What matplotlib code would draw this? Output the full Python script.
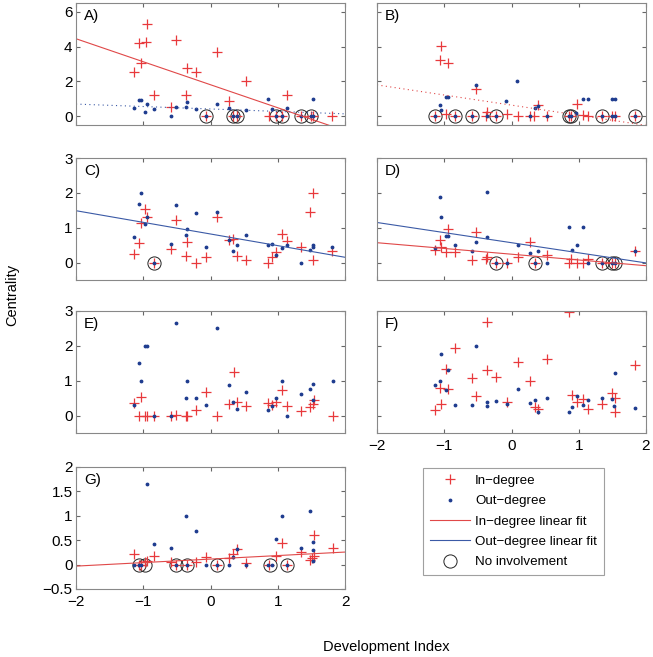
import numpy as np
import matplotlib.pyplot as plt
from matplotlib.ticker import FuncFormatter

plt.rcParams['font.family'] = ['Liberation Sans', 'DejaVu Sans']
plt.rcParams['font.size'] = 10

# ---- data ----
# panel A
xa_in = [-1.14, -1.07, -1.04, -0.96, -0.94, -0.84, -0.58, -0.52, -0.37, -0.35, -0.22, -0.07, 0.09,
         0.28, 0.34, 0.40, 0.53, 0.87, 0.98, 1.06, 1.14, 1.35, 1.50, 1.53, 1.81]
ya_in = [2.52, 4.19, 3.06, 4.27, 5.29, 1.21, 0.52, 4.40, 1.23, 2.79, 2.54, 0, 3.69,
         0.90, 0, 0, 2.04, 0, 0, 0, 1.25, 0, 0, 0, 0]
xa_out = [-1.14, -1.07, -1.04, -0.97, -0.94, -0.84, -0.58, -0.52, -0.37, -0.35, -0.22, -0.07, 0.09,
          0.28, 0.34, 0.40, 0.53, 0.86, 0.91, 0.98, 1.06, 1.14, 1.35, 1.50, 1.53, 1.53]
ya_out = [0.50, 0.96, 0.96, 0.23, 0.69, 0.40, 0, 0.56, 0.54, 0.83, 0.42, 0, 0.69,
          0.46, 0, 0, 0.38, 1.0, 0.40, 0, 0, 0.50, 0, 0, 0, 1.0]
xa_none = [-0.07, 0.34, 0.40, 0.98, 1.06, 1.35, 1.50]

# panel B
xb_in = [-1.14, -1.07, -1.05, -0.98, -0.94, -0.84, -0.58, -0.53, -0.38, -0.37, -0.23, -0.07, 0.09,
         0.27, 0.34, 0.40, 0.53, 0.86, 0.89, 0.97, 1.06, 1.14, 1.35, 1.49, 1.54, 1.83]
yb_in = [0, 3.23, 4.04, 0.12, 3.08, 0, 0, 1.58, 0, 0.27, 0, 0.12, 0,
         0, 0, 0.63, 0, 0, 0, 0.69, 0.08, 0, 0, 0, 0, 0]
xb_out = [-1.14, -1.07, -1.05, -0.97, -0.94, -0.84, -0.58, -0.53, -0.37, -0.23, -0.08, 0.08,
          0.27, 0.35, 0.40, 0.53, 0.86, 0.89, 0.96, 1.06, 1.14, 1.35, 1.49, 1.54, 1.49, 1.54, 1.83]
yb_out = [0, 0.65, 0.38, 1.13, 1.08, 0, 0, 1.81, 0, 0, 0.88, 2.02,
          0, 0.50, 0.58, 0, 0, 0, 0.21, 1.0, 1.0, 0, 1.0, 1.0, 0, 0, 0]
xb_none = [-1.14, -0.84, -0.58, -0.23, 0.86, 0.89, 1.35, 1.83]

# panel C
xc_in = [-1.14, -1.07, -1.04, -0.97, -0.94, -0.84, -0.58, -0.52, -0.35, -0.37, -0.22, -0.07, 0.09,
         0.28, 0.34, 0.40, 0.53, 0.86, 0.91, 0.98, 1.06, 1.14, 1.35, 1.48, 1.53, 1.52, 1.81]
yc_in = [0.26, 0.57, 1.14, 1.53, 1.31, 0, 0.39, 1.23, 0.58, 0.20, 0, 0.15, 1.31,
         0.64, 0.67, 0.19, 0.08, 0, 0.17, 0.31, 0.83, 0.63, 0.44, 1.46, 2.0, 0.08, 0.33]
xc_out = [-1.14, -1.07, -1.04, -0.97, -0.94, -0.84, -0.58, -0.52, -0.37, -0.35, -0.22, -0.07, 0.09,
          0.28, 0.34, 0.40, 0.53, 0.86, 0.91, 0.98, 1.06, 1.14, 1.35, 1.48, 1.52, 1.53, 1.81]
yc_out = [0.73, 1.68, 2.0, 1.12, 1.32, 0, 0.54, 1.64, 0.79, 0.97, 1.41, 0.44, 1.45,
          0.65, 0.34, 0.51, 0.80, 0.51, 0.53, 0.21, 0.42, 0.49, 0, 0.37, 0.51, 0.44, 0.46]
xc_none = [-0.84]

# panel D
xd_in = [-1.14, -1.07, -1.05, -0.97, -0.94, -0.84, -0.58, -0.53, -0.38, -0.37, -0.23, -0.07, 0.09,
         0.27, 0.35, 0.53, 0.86, 0.89, 0.97, 1.06, 1.14, 1.35, 1.49, 1.54, 1.83]
yd_in = [0.37, 0.66, 0.46, 0.30, 0.95, 0.30, 0.06, 0.89, 0.10, 0.17, 0, 0, 0.15,
         0.59, 0, 0.23, 0, 0.10, 0, 0, 0.10, 0, 0, 0, 0.33]
xd_out = [-1.14, -1.07, -1.05, -0.97, -0.94, -0.84, -0.58, -0.53, -0.37, -0.36, -0.23, -0.07, 0.09,
          0.28, 0.35, 0.40, 0.53, 0.86, 0.90, 0.97, 1.06, 1.14, 1.35, 1.49, 1.54, 1.83]
yd_out = [0.41, 1.88, 1.32, 0.75, 0.75, 0.50, 0.33, 0.58, 0.72, 2.02, 0, 0, 0.51,
          0.28, 0, 0.33, 0, 1.01, 0.37, 0.50, 1.01, 0, 0, 0, 0, 0.33]
xd_none = [-0.23, 0.35, 1.35, 1.49, 1.54]

# panel E
xe_in = [-1.14, -1.07, -1.04, -0.97, -0.94, -0.84, -0.58, -0.52, -0.37, -0.35, -0.22, -0.07, 0.09,
         0.28, 0.35, 0.40, 0.53, 0.86, 0.91, 0.98, 1.07, 1.14, 1.35, 1.48, 1.52, 1.54, 1.82]
ye_in = [0.36, 0, 0.53, 0, 0, 0, 0, 0.02, 0, 0, 0.17, 0.69, 0,
         0.33, 1.25, 0.39, 0.27, 0.36, 0.31, 0.39, 0.74, 0.27, 0.12, 0.25, 0.34, 0.44, 0]
xe_out = [-1.14, -1.07, -1.04, -0.97, -0.94, -0.84, -0.58, -0.52, -0.37, -0.35, -0.22, -0.07, 0.09,
          0.28, 0.34, 0.40, 0.53, 0.86, 0.91, 0.98, 1.07, 1.14, 1.35, 1.48, 1.52, 1.53, 1.82]
ye_out = [0.31, 1.5, 1.0, 2.0, 2.0, 0, 0, 2.67, 0.5, 1.0, 0.5, 0.3, 2.5,
          0.88, 0.38, 0.18, 0.67, 0.17, 0.27, 0.49, 1.0, 0, 0.62, 0.77, 0.46, 0.9, 1.0]

# panel F
xf_in = [-1.14, -1.07, -1.05, -0.97, -0.94, -0.84, -0.58, -0.53, -0.37, -0.36, -0.23, -0.07, 0.09,
         0.28, 0.35, 0.40, 0.53, 0.86, 0.90, 0.97, 1.06, 1.14, 1.35, 1.49, 1.54, 1.54, 1.83]
yf_in = [0.15, 0.78, 0.32, 1.34, 0.75, 1.94, 1.09, 0.56, 2.69, 1.30, 1.11, 0.39, 1.53,
         0.98, 0.25, 0.18, 1.61, 2.96, 0.58, 0.39, 0.47, 0.20, 0.33, 0.64, 0.50, 0.09, 1.46]
xf_out = [-1.14, -1.07, -1.05, -0.97, -0.94, -0.84, -0.58, -0.53, -0.37, -0.36, -0.23, -0.07, 0.09,
          0.28, 0.35, 0.40, 0.53, 0.86, 0.90, 0.97, 1.06, 1.14, 1.35, 1.49, 1.54, 1.52, 1.83]
yf_out = [0.89, 1.0, 1.76, 0.74, 1.30, 0.29, 0.29, 2.0, 0.28, 0.40, 0.41, 0.33, 0.77,
          0.36, 0.44, 0.11, 0.50, 0.11, 0.25, 0.56, 0.30, 0.44, 0.50, 0.48, 1.21, 0.27, 0.21]

# panel G
xg_in = [-1.14, -1.07, -1.04, -0.97, -0.94, -0.84, -0.58, -0.52, -0.35, -0.22, -0.07, 0.09,
         0.28, 0.34, 0.40, 0.53, 0.87, 0.98, 1.07, 1.14, 1.35, 1.48, 1.51, 1.54, 1.54, 1.82]
yg_in = [0.21, 0, 0, 0.06, 0.07, 0.18, 0.06, 0, 0, 0.06, 0.15, 0,
         0.13, 0.21, 0.32, 0.03, 0, 0.18, 0.44, 0, 0.26, 0.09, 0.14, 0.61, 0.18, 0.33]
xg_out = [-1.14, -1.07, -1.04, -0.94, -0.84, -0.58, -0.52, -0.37, -0.35, -0.22, -0.07, 0.09,
          0.28, 0.34, 0.40, 0.53, 0.86, 0.91, 0.97, 1.07, 1.14, 1.35, 1.48, 1.52, 1.53, 1.52]
yg_out = [0, 0, 0, 1.66, 0.43, 0.33, 0, 1.0, 0, 0.68, 0, 0,
          0, 0.16, 0.31, 0, 0, 0, 0.52, 1.0, 0, 0.33, 1.09, 0.47, 0.30, 0.07]
xg_none = [-1.06, -0.97, -0.52, -0.35, 0.09, 0.89, 1.14]

# linear fits (slope, intercept); dotted = not significant
fit_a_in = (-1.32, 1.81)
fit_a_out = (-0.14, 0.42)
fit_b_in = (-0.58, 0.64)
fit_c_out = (-0.334, 0.82)
fit_d_in = (-0.165, 0.24)
fit_d_out = (-0.29, 0.57)
fit_g_in = (0.072, 0.113)

RED = '#e8393c'
BLUE = '#1f3d8f'
LRED = '#e04848'
LBLUE = '#3b5aa6'

fig = plt.figure(figsize=(6.53, 6.57), dpi=100)
W = 1 / 653
H = 1 / 657
col_left = [76 * W, 377 * W]
axw = 269 * W
row_tops = [3, 158, 311, 467]
axh = 122 * H


def make_ax(r, c):
    top = row_tops[r]
    ax = fig.add_axes([col_left[c], 1 - (top + 122) * H, axw, axh])
    return ax


def fmt(v, pos):
    s = ('%g' % v)
    return s.replace('-', '\u2212')


def panel(ax, lab, xin, yin, xout, yout, xnone=None, fits=(), ylim=(-0.5, 3), yticks=(0, 1, 2, 3)):
    if xnone is not None:
        ax.plot(xnone, np.zeros(len(xnone)), 'o', mfc='none', mec='#222222', ms=9.5, mew=0.7)
    ax.plot(xin, yin, '+', color=RED, ms=7, mew=0.9)
    ax.plot(xout, yout, '.', color=BLUE, ms=3.5)
    xx = np.array([-2, 2])
    for (m, b), col, ls in fits:
        ax.plot(xx, m * xx + b, color=col, lw=0.8, ls=ls)
    ax.set_xlim(-2, 2)
    ax.set_ylim(*ylim)
    ax.set_yticks(yticks)
    ax.set_xticks([-2, -1, 0, 1, 2])
    ax.xaxis.set_major_formatter(FuncFormatter(fmt))
    ax.yaxis.set_major_formatter(FuncFormatter(fmt))
    ax.tick_params(direction='in', top=True, right=True, length=3, color='#666666',
                   labelsize=11, pad=2.5)
    ax.tick_params(axis='x', pad=4)
    for s in ax.spines.values():
        s.set_color('#888888')
        s.set_linewidth(0.8)
    ax.text(0.03, 0.89, lab, transform=ax.transAxes, fontsize=11, va='center')
    return ax


dot = (0, (1, 3))

axA = panel(make_ax(0, 0), 'A)', xa_in, ya_in, xa_out, ya_out, xa_none,
            [(fit_a_in, LRED, '-'), (fit_a_out, LBLUE, dot)], (-0.5, 6.5), (0, 2, 4, 6))
axB = panel(make_ax(0, 1), 'B)', xb_in, yb_in, xb_out, yb_out, xb_none,
            [(fit_b_in, LRED, dot)], (-0.5, 6.5), (0, 2, 4, 6))
axC = panel(make_ax(1, 0), 'C)', xc_in, yc_in, xc_out, yc_out, xc_none,
            [(fit_c_out, LBLUE, '-')])
axD = panel(make_ax(1, 1), 'D)', xd_in, yd_in, xd_out, yd_out, xd_none,
            [(fit_d_out, LBLUE, '-'), (fit_d_in, LRED, '-')])
axE = panel(make_ax(2, 0), 'E)', xe_in, ye_in, xe_out, ye_out)
axF = panel(make_ax(2, 1), 'F)', xf_in, yf_in, xf_out, yf_out)
axG = panel(make_ax(3, 0), 'G)', xg_in, yg_in, xg_out, yg_out, xg_none,
            [(fit_g_in, LRED, '-')], (-0.5, 2), (-0.5, 0, 0.5, 1, 1.5, 2))

for ax in [axA, axB, axC, axD, axE]:
    ax.set_xticklabels([])
for ax in [axB, axD, axF]:
    ax.set_yticklabels([])

# legend
h1, = plt.plot([], [], '+', color=RED, ms=7, mew=0.9)
h2, = plt.plot([], [], '.', color=BLUE, ms=3.5)
h3, = plt.plot([], [], color=LRED, lw=0.8)
h4, = plt.plot([], [], color=LBLUE, lw=0.8)
h5, = plt.plot([], [], 'o', mfc='none', mec='#222222', ms=9.5, mew=0.7)
leg = fig.legend([h1, h2, h3, h4, h5],
                 ['In\u2212degree', 'Out\u2212degree', 'In\u2212degree linear fit',
                  'Out\u2212degree linear fit', 'No involvement'],
                 loc='upper left', bbox_to_anchor=(423 * W, 1 - 468 * H),
                 fontsize=9.6, frameon=True, fancybox=False, edgecolor='#888888',
                 handlelength=3.0, borderpad=0.5, labelspacing=0.6, handletextpad=0.4,
                 borderaxespad=0)
leg.get_frame().set_linewidth(0.8)

fig.text(12 * W, 1 - 295 * H, 'Centrality', rotation=90, ha='center', va='center', fontsize=10.5)
fig.text(386 * W, 1 - 647 * H, 'Development Index', ha='center', va='center', fontsize=10.5)

fig.savefig('out.png', dpi=100)
